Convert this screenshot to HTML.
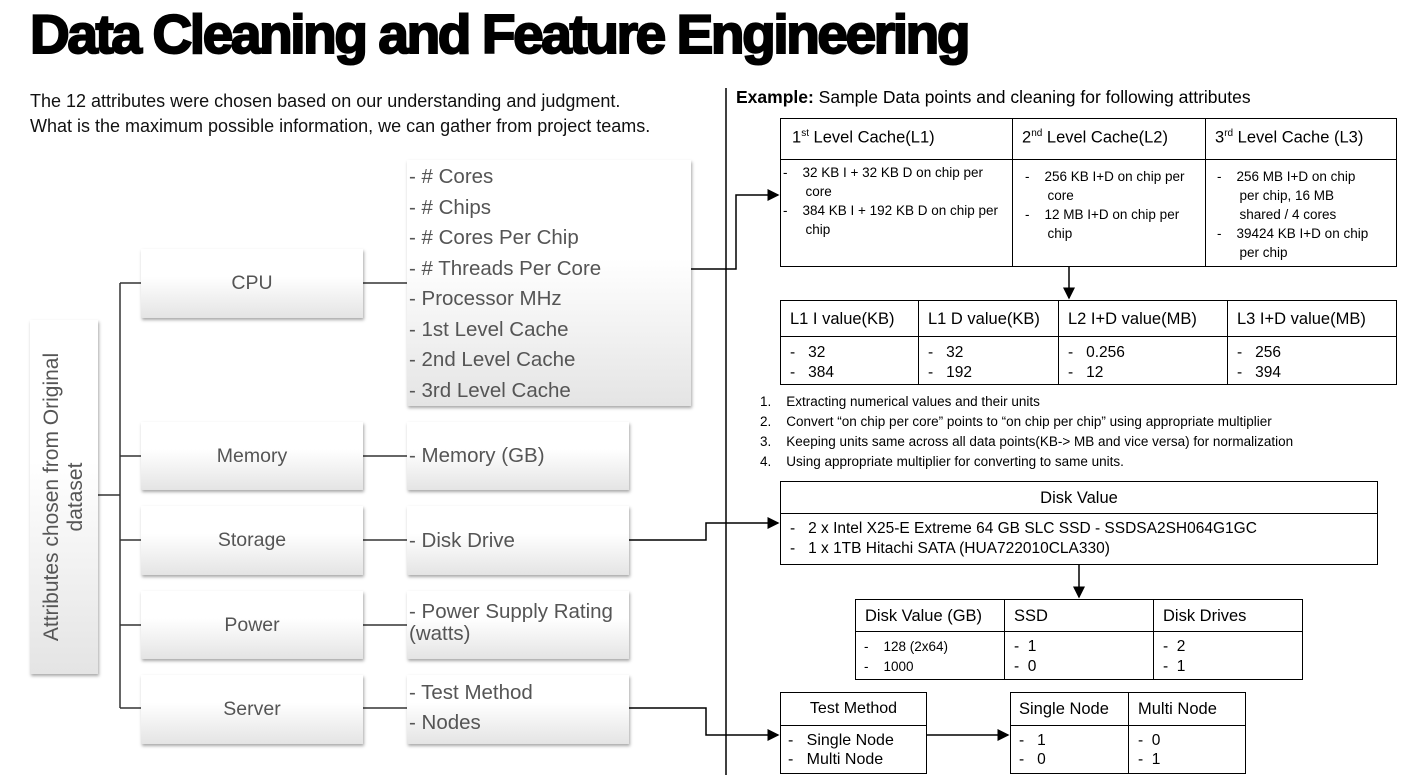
<!DOCTYPE html>
<html><head><meta charset="utf-8"><style>
*{margin:0;padding:0;box-sizing:border-box}
body{width:1403px;height:781px;background:#fff;position:relative;overflow:hidden;font-family:"Liberation Sans",sans-serif;color:#000}
.a{position:absolute}
.g{position:absolute;background:linear-gradient(#fff 0%,#fff 40%,#e4e4e4 100%);box-shadow:1px 2px 3px rgba(0,0,0,.35);color:#555;font-size:19.5px}
.c{display:flex;align-items:center;justify-content:center}
.l{display:flex;align-items:center;padding-left:2px}
.t{position:absolute;border:1.5px solid #000;font-size:16.5px}
.t div{position:absolute}
.s{font-size:13.5px;line-height:19px}
</style></head><body>
<div class="a" style="left:30px;top:2px;font-size:55px;font-weight:900;letter-spacing:-2.4px;white-space:nowrap;-webkit-text-stroke:2px #000">Data Cleaning and Feature Engineering</div>
<div class="a" style="left:30px;top:89px;font-size:18px;line-height:25px;color:#111">The 12 attributes were chosen based on our understanding and judgment.<br>What is the maximum possible information, we can gather from project teams.</div>

<svg class="a" style="left:0;top:0" width="1403" height="781">
<defs><marker id="m" markerWidth="8" markerHeight="8" refX="7" refY="4" orient="auto"><path d="M0,0 L8,4 L0,8z" fill="#000"/></marker></defs>
<g stroke="#333" stroke-width="1.5" fill="none">
<path d="M98,495 H120 M120,283 V708 M120,283 H141 M120,456 H141 M120,540 H141 M120,625 H141 M120,708 H141"/>
<path d="M363,283 H407 M363,456 H407 M363,540 H407 M363,625 H407 M363,708 H407"/>
</g>
<g stroke="#000" stroke-width="1.5" fill="none">
<path d="M726,88 V775"/>
<path d="M691,269 H736 V195 H778" marker-end="url(#m)"/>
<path d="M629,540 H706 V523 H778" marker-end="url(#m)"/>
<path d="M629,708 H706 V735 H778" marker-end="url(#m)"/>
<path d="M1069,267 V298" marker-end="url(#m)"/>
<path d="M1079,565 V597" marker-end="url(#m)"/>
<path d="M927,735 H1008" marker-end="url(#m)"/>
</g>
</svg>

<div class="g c" style="left:30px;top:320px;width:68px;height:354px"><div style="transform:rotate(-90deg);white-space:nowrap;text-align:center;font-size:21px;line-height:24px">Attributes chosen from Original<br>dataset</div></div>
<div class="g c" style="left:141px;top:249px;width:222px;height:69px">CPU</div>
<div class="g c" style="left:141px;top:422px;width:222px;height:68px">Memory</div>
<div class="g c" style="left:141px;top:506px;width:222px;height:69px">Storage</div>
<div class="g c" style="left:141px;top:591px;width:222px;height:68px">Power</div>
<div class="g c" style="left:141px;top:675px;width:222px;height:69px">Server</div>

<div class="g" style="left:407px;top:160px;width:284px;height:246px;padding:2px 0 0 2px;line-height:30.5px;font-size:20.5px">- # Cores<br>- # Chips<br>- # Cores Per Chip<br>- # Threads Per Core<br>- Processor MHz<br>- 1st Level Cache<br>- 2nd Level Cache<br>- 3rd Level Cache</div>
<div class="g l" style="left:407px;top:422px;width:222px;height:68px;font-size:20.5px">- Memory (GB)</div>
<div class="g l" style="left:407px;top:506px;width:222px;height:69px;font-size:20.5px">- Disk Drive</div>
<div class="g" style="left:407px;top:591px;width:222px;height:68px;padding:10px 0 0 2px;line-height:22px;font-size:20.5px">- Power Supply Rating (watts)</div>
<div class="g" style="left:407px;top:675px;width:222px;height:69px;padding:3px 0 0 2px;line-height:30px;font-size:20.5px">- Test Method<br>- Nodes</div>

<div class="a" style="left:736px;top:87px;font-size:17.5px"><b>Example:</b> Sample Data points and cleaning for following attributes</div>

<div class="t" style="left:780px;top:118px;width:617px;height:149px">
<div style="left:0;right:0;top:40px;border-top:1.5px solid #000"></div>
<div style="left:231px;top:0;bottom:0;border-left:1.5px solid #000"></div>
<div style="left:424px;top:0;bottom:0;border-left:1.5px solid #000"></div>
<div style="left:11px;top:9px">1<sup style="font-size:10px">st</sup> Level Cache(L1)</div>
<div style="left:241px;top:9px">2<sup style="font-size:10px">nd</sup> Level Cache(L2)</div>
<div style="left:434px;top:9px">3<sup style="font-size:10px">rd</sup> Level Cache (L3)</div>
<div class="s" style="left:2px;top:44px;width:228px">-&nbsp;&nbsp;&nbsp;&nbsp;32 KB I + 32 KB D on chip per<br>&nbsp;&nbsp;&nbsp;&nbsp;&nbsp;&nbsp;core<br>-&nbsp;&nbsp;&nbsp;&nbsp;384 KB I + 192 KB D on chip per<br>&nbsp;&nbsp;&nbsp;&nbsp;&nbsp;&nbsp;chip</div>
<div class="s" style="left:244px;top:48px;width:178px">-&nbsp;&nbsp;&nbsp;&nbsp;256 KB I+D on chip per<br>&nbsp;&nbsp;&nbsp;&nbsp;&nbsp;&nbsp;core<br>-&nbsp;&nbsp;&nbsp;&nbsp;12 MB I+D on chip per<br>&nbsp;&nbsp;&nbsp;&nbsp;&nbsp;&nbsp;chip</div>
<div class="s" style="left:436px;top:48px;width:180px">-&nbsp;&nbsp;&nbsp;&nbsp;256 MB I+D on chip<br>&nbsp;&nbsp;&nbsp;&nbsp;&nbsp;&nbsp;per chip, 16 MB<br>&nbsp;&nbsp;&nbsp;&nbsp;&nbsp;&nbsp;shared / 4 cores<br>-&nbsp;&nbsp;&nbsp;&nbsp;39424 KB I+D on chip<br>&nbsp;&nbsp;&nbsp;&nbsp;&nbsp;&nbsp;per chip</div>
</div>

<div class="t" style="left:780px;top:300px;width:617px;height:85px">
<div style="left:0;right:0;top:35px;border-top:1.5px solid #000"></div>
<div style="left:137px;top:0;bottom:0;border-left:1.5px solid #000"></div>
<div style="left:277px;top:0;bottom:0;border-left:1.5px solid #000"></div>
<div style="left:446px;top:0;bottom:0;border-left:1.5px solid #000"></div>
<div style="left:9px;top:9px">L1 I value(KB)</div>
<div style="left:147px;top:9px">L1 D value(KB)</div>
<div style="left:287px;top:9px">L2 I+D value(MB)</div>
<div style="left:456px;top:9px">L3 I+D value(MB)</div>
<div style="left:9px;top:42px;line-height:20px;font-size:15.5px">-&nbsp;&nbsp;&nbsp;32<br>-&nbsp;&nbsp;&nbsp;384</div>
<div style="left:147px;top:42px;line-height:20px;font-size:15.5px">-&nbsp;&nbsp;&nbsp;32<br>-&nbsp;&nbsp;&nbsp;192</div>
<div style="left:287px;top:42px;line-height:20px;font-size:15.5px">-&nbsp;&nbsp;&nbsp;0.256<br>-&nbsp;&nbsp;&nbsp;12</div>
<div style="left:456px;top:42px;line-height:20px;font-size:15.5px">-&nbsp;&nbsp;&nbsp;256<br>-&nbsp;&nbsp;&nbsp;394</div>
</div>

<div class="a" style="left:760px;top:392px;font-size:13.5px;line-height:20px">
1.&nbsp;&nbsp;&nbsp;&nbsp;Extracting numerical values and their units<br>
2.&nbsp;&nbsp;&nbsp;&nbsp;Convert “on chip per core” points to “on chip per chip” using appropriate multiplier<br>
3.&nbsp;&nbsp;&nbsp;&nbsp;Keeping units same across all data points(KB-&gt; MB and vice versa) for normalization<br>
4.&nbsp;&nbsp;&nbsp;&nbsp;Using appropriate multiplier for converting to same units.</div>

<div class="t" style="left:780px;top:481px;width:598px;height:84px">
<div style="left:0;right:0;top:31px;border-top:1.5px solid #000"></div>
<div style="left:0;right:0;top:7px;text-align:center">Disk Value</div>
<div style="left:9px;top:37px;line-height:20px;font-size:15.5px">-&nbsp;&nbsp;&nbsp;2 x Intel X25-E Extreme 64 GB SLC SSD - SSDSA2SH064G1GC<br>-&nbsp;&nbsp;&nbsp;1 x 1TB Hitachi SATA (HUA722010CLA330)</div>
</div>

<div class="t" style="left:855px;top:599px;width:448px;height:81px">
<div style="left:0;right:0;top:31px;border-top:1.5px solid #000"></div>
<div style="left:148px;top:0;bottom:0;border-left:1.5px solid #000"></div>
<div style="left:297px;top:0;bottom:0;border-left:1.5px solid #000"></div>
<div style="left:9px;top:7px">Disk Value (GB)</div>
<div style="left:158px;top:7px">SSD</div>
<div style="left:307px;top:7px">Disk Drives</div>
<div style="left:8px;top:37px;line-height:20px;font-size:13.5px">-&nbsp;&nbsp;&nbsp;&nbsp;128 (2x64)<br>-&nbsp;&nbsp;&nbsp;&nbsp;1000</div>
<div style="left:158px;top:37px;line-height:20px;font-size:15.5px">-&nbsp;&nbsp;1<br>-&nbsp;&nbsp;0</div>
<div style="left:307px;top:37px;line-height:20px;font-size:15.5px">-&nbsp;&nbsp;2<br>-&nbsp;&nbsp;1</div>
</div>

<div class="t" style="left:780px;top:692px;width:147px;height:82px">
<div style="left:0;right:0;top:32px;border-top:1.5px solid #000"></div>
<div style="left:0;right:0;top:7px;text-align:center;font-size:16px">Test Method</div>
<div style="left:7px;top:38px;line-height:19px;font-size:16px">-&nbsp;&nbsp;&nbsp;Single Node<br>-&nbsp;&nbsp;&nbsp;Multi Node</div>
</div>

<div class="t" style="left:1010px;top:692px;width:236px;height:82px">
<div style="left:0;right:0;top:32px;border-top:1.5px solid #000"></div>
<div style="left:117px;top:0;bottom:0;border-left:1.5px solid #000"></div>
<div style="left:8px;top:7px">Single Node</div>
<div style="left:127px;top:7px">Multi Node</div>
<div style="left:8px;top:38px;line-height:19px;font-size:15.5px">-&nbsp;&nbsp;&nbsp;1<br>-&nbsp;&nbsp;&nbsp;0</div>
<div style="left:127px;top:38px;line-height:19px;font-size:15.5px">-&nbsp;&nbsp;0<br>-&nbsp;&nbsp;1</div>
</div>
</body></html>
